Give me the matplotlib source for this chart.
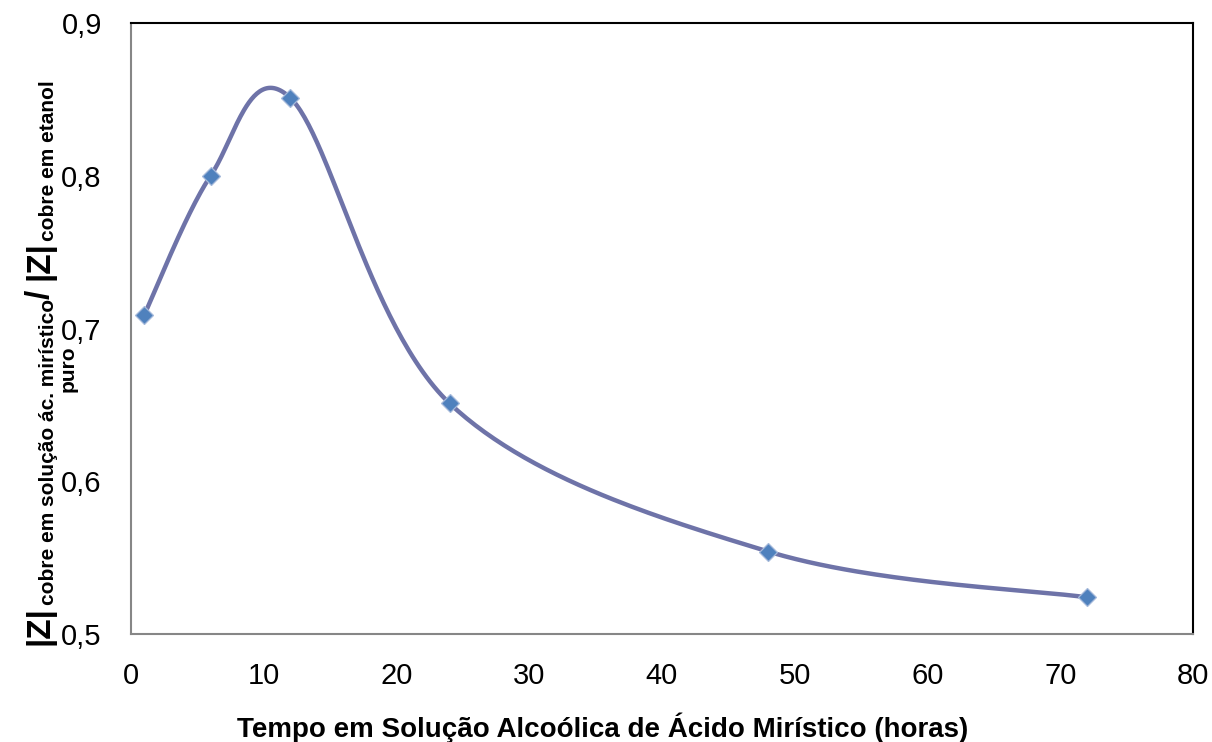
import numpy as np
import matplotlib
matplotlib.use("Agg")
import matplotlib.pyplot as plt
from matplotlib.ticker import FuncFormatter

plt.rcParams['font.family'] = ['Liberation Sans', 'DejaVu Sans']

# Data
horas = [1, 6, 12, 24, 48, 72]
razao = [0.709, 0.800, 0.851, 0.651, 0.554, 0.524]
xticks = [0, 10, 20, 30, 40, 50, 60, 70, 80]
yticks = [0.5, 0.6, 0.7, 0.8, 0.9]

def smooth(xs, ys, n=60):
    P = np.column_stack([xs, ys]).astype(float)
    Pext = np.vstack([P[0], P, P[-1]])
    out = []
    t = np.linspace(0, 1, n)
    for i in range(len(P) - 1):
        p0, p1, p2, p3 = Pext[i], Pext[i + 1], Pext[i + 2], Pext[i + 3]
        c1 = p1 + (p2 - p0) / 6.0
        c2 = p2 - (p3 - p1) / 6.0
        seg = ((1 - t) ** 3)[:, None] * p1 + (3 * (1 - t) ** 2 * t)[:, None] * c1 \
            + (3 * (1 - t) * t ** 2)[:, None] * c2 + (t ** 3)[:, None] * p2
        out.append(seg)
    c = np.vstack(out)
    return c[:, 0], c[:, 1]

W, H = 1212, 742
fig = plt.figure(figsize=(W / 100, H / 100), dpi=100)
ax = fig.add_axes([131 / W, 1 - 634 / H, (1193 - 131) / W, (634 - 23) / H])

sx, sy = smooth(horas, razao)
ax.plot(sx, sy, color='#6E73A8', lw=3.2, solid_capstyle='round', zorder=2)
ax.plot(horas, razao, linestyle='none', marker='D', ms=9, color='#4F81BD',
        markeredgecolor='#A5B9DA', markeredgewidth=0.9, zorder=3)

ax.set_xlim(0, 80)
ax.set_ylim(0.5, 0.9)
ax.set_xticks(xticks)
ax.set_yticks(yticks)
ax.yaxis.set_major_formatter(FuncFormatter(lambda v, p: f"{v:.1f}".replace('.', ',')))
ax.tick_params(axis='both', length=0, labelsize=21)
ax.tick_params(axis='x', pad=20)
ax.tick_params(axis='y', pad=21)

for s in ['left', 'bottom']:
    ax.spines[s].set_color('#868686')
    ax.spines[s].set_linewidth(1.5)
for s in ['top', 'right']:
    ax.spines[s].set_color('#000000')
    ax.spines[s].set_linewidth(1.5)

fig.text(603 / W, 1 - 737 / H, 'Tempo em Solução Alcoólica de Ácido Mirístico (horas)',
         fontsize=20, fontweight='bold', ha='center', va='baseline')

# Composite rotated y-label, built from bottom to top
renderer = fig.canvas.get_renderer()
big, small = 24, 15
base_big_x = 49      # pixel x of baseline for large text
base_small_x = 54    # pixel x of baseline for subscript text
cursor = 645         # pixel y (from top) where label starts
pieces = [('|Z|', big, base_big_x),
          ('cobre em solução ác. mirístico', small, base_small_x),
          ('/ ', big, base_big_x),
          ('|Z|', big, base_big_x),
          ('cobre em etanol', small, base_small_x)]
for txt, fs, bx in pieces:
    t = fig.text(bx / W, 1 - cursor / H, txt, rotation=90, rotation_mode='anchor',
                 ha='left', va='baseline', fontsize=fs, fontweight='bold')
    bb = t.get_window_extent(renderer)
    cursor -= bb.height
    if txt.startswith('|Z|'):
        cursor -= 1
fig.text(74 / W, 1 - 369 / H, 'puro', rotation=90, rotation_mode='anchor',
         ha='center', va='baseline', fontsize=small, fontweight='bold')

fig.savefig('out.png', dpi=100)
